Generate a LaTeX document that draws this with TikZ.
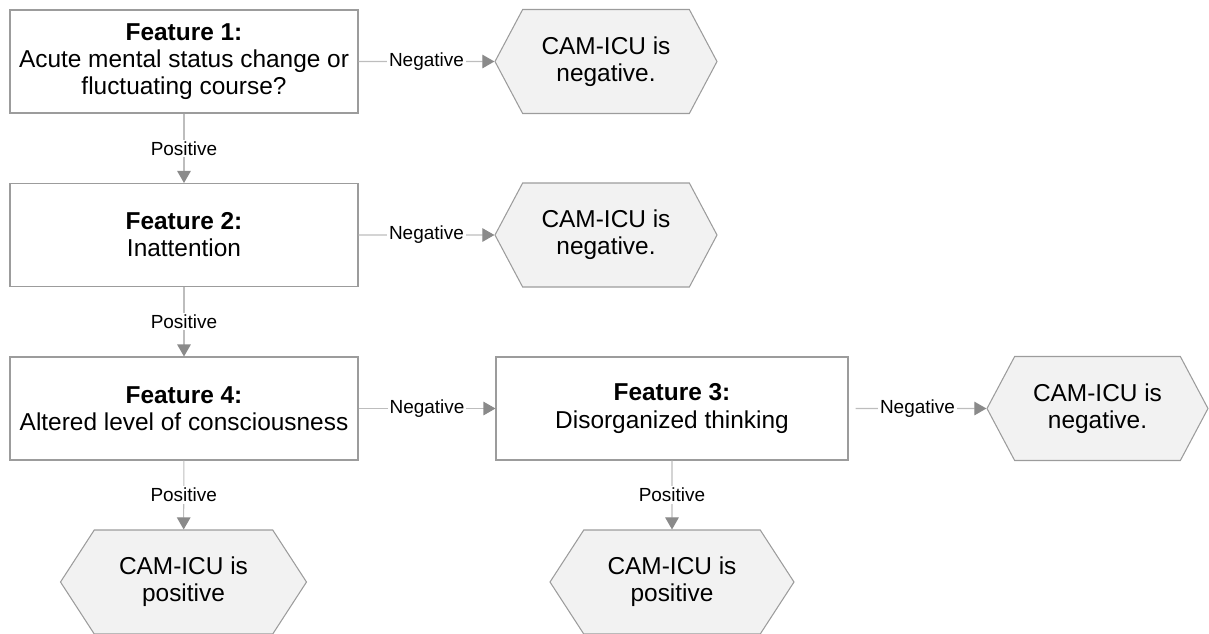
\documentclass[tikz,border=0pt]{standalone}
\usepackage{fontspec}
\setmainfont{Liberation Sans}
\usetikzlibrary{shapes.symbols,arrows.meta}
\definecolor{boxgray}{HTML}{9C9C9C}
\definecolor{linegray}{HTML}{BDBDBD}
\definecolor{tipgray}{HTML}{8A8A8A}
\definecolor{hexfill}{HTML}{F2F2F2}
\newcommand{\mainsize}{\fontsize{13.9}{15.4}\selectfont}
\newcommand{\labelsize}{\fontsize{10.8}{12}\selectfont}

\begin{document}
\begin{tikzpicture}
  \tikzstyle{feature}=[draw=boxgray, line width=0.6pt, fill=white, minimum width=6.96cm, minimum height=2.06cm, align=center, font=\mainsize];
  \tikzstyle{result}=[draw=boxgray, line width=0.6pt, fill=hexfill, signal, signal to=west and east, minimum height=2.08cm, align=center, font=\mainsize];
  \tikzstyle{flow}=[draw=linegray, line width=0.6pt, -{Triangle[length=0.24cm, width=0.27cm, color=tipgray]}];
  \tikzstyle{answer}=[fill=white, inner sep=1pt, font=\labelsize, text=black];

  % Fix the page to the size of the picture
  \useasboundingbox (0,0) rectangle (24.18,-12.66);

  % Feature boxes
  \node[feature] (f1) at (3.68,-1.23) {\textbf{Feature 1:}\\Acute mental status change or\\fluctuating course?};
  \node[feature] (f2) at (3.68,-4.70) {\textbf{Feature 2:}\\Inattention};
  \node[feature] (f4) at (3.68,-8.17) {\textbf{Feature 4:}\\Altered level of consciousness};
  \node[feature, minimum width=7.04cm] (f3) at (13.44,-8.17) {\textbf{Feature 3:}\\Disorganized thinking};

  % Outcomes
  \node[result, minimum width=4.44cm, signal pointer angle=124] (neg1) at (12.12,-1.23) {CAM-ICU is\\negative.};
  \node[result, minimum width=4.44cm, signal pointer angle=124] (neg2) at (12.12,-4.70) {CAM-ICU is\\negative.};
  \node[result, minimum width=4.42cm, signal pointer angle=124] (neg3) at (21.95,-8.17) {CAM-ICU is\\negative.};
  \node[result, minimum width=4.92cm, signal pointer angle=114] (pos1) at (3.67,-11.64) {CAM-ICU is\\positive};
  \node[result, minimum width=4.88cm, signal pointer angle=114] (pos2) at (13.44,-11.64) {CAM-ICU is\\positive};

  % Connectors
  \draw[flow] (f1) -- node[answer] {Negative} (neg1);
  \draw[flow] (f1) -- node[answer] {Positive} (f2);
  \draw[flow] (f2) -- node[answer] {Negative} (neg2);
  \draw[flow] (f2) -- node[answer] {Positive} (f4);
  \draw[flow] (f4) -- node[answer] {Negative} (f3);
  \draw[flow] (f4) -- node[answer] {Positive} (pos1);
  \draw[flow, shorten <=0.14cm] (f3) -- node[answer] {Negative} (neg3);
  \draw[flow] (f3) -- node[answer] {Positive} (pos2);
\end{tikzpicture}
\end{document}
